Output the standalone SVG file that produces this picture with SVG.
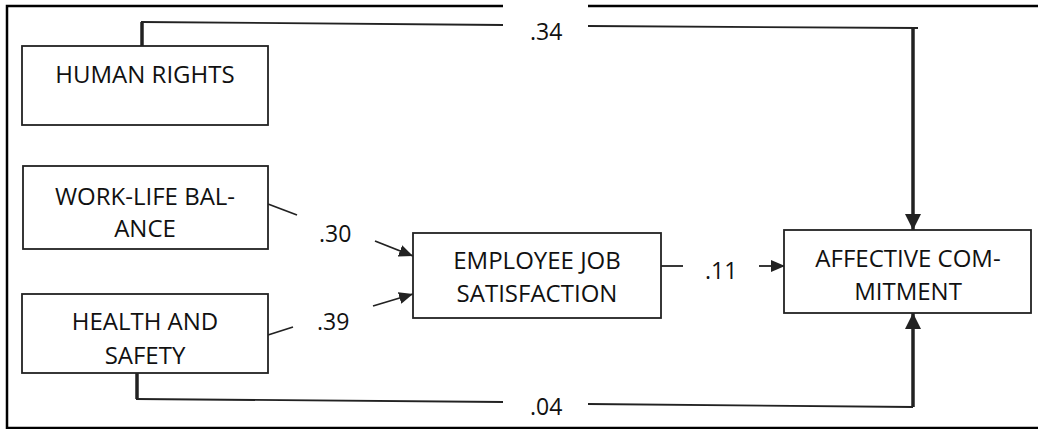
<svg xmlns="http://www.w3.org/2000/svg" width="1038" height="429" viewBox="0 0 1038 429">
<defs>
<style>
.box{fill:#fff;stroke:#222;stroke-width:1.8}
.txt{font-family:"Open Sans","Noto Sans",sans-serif;font-size:24px;fill:#111;text-anchor:middle}
.lbl{font-family:"Open Sans","Noto Sans",sans-serif;font-size:23px;fill:#111}
.thin{fill:none;stroke:#222;stroke-width:1.8}
.thick{fill:none;stroke:#222;stroke-width:3.5}
</style>
<marker id="ah" markerUnits="userSpaceOnUse" viewBox="0 0 14 12" markerWidth="14" markerHeight="12" refX="14" refY="6" orient="auto">
<path d="M0,0 L14,6 L0,12 Z" fill="#222"/>
</marker>
<marker id="ahb" markerUnits="userSpaceOnUse" viewBox="0 0 16 16" markerWidth="16" markerHeight="16" refX="16" refY="8" orient="auto">
<path d="M0,0 L16,8 L0,16 Z" fill="#222"/>
</marker>
</defs>
<rect width="1038" height="429" fill="#fff"/>
<path d="M1040,6 H7 V428 H1040" fill="none" stroke="#000" stroke-width="2.5"/>
<rect x="503" y="0" width="85" height="46" fill="#fff"/>

<g id="connectors">
<path class="thick" d="M142,46 V22"/>
<path class="thin" d="M141,22 L503,25"/>
<path class="thin" d="M588,26 L918,28"/>
<path class="thick" d="M913,28 V230" marker-end="url(#ahb)"/>
<path class="thick" d="M137,373 V399"/>
<path class="thin" d="M136,399 L503,402"/>
<path class="thin" d="M588,404 L913,407"/>
<path class="thick" d="M913,407 V313" marker-end="url(#ahb)"/>
<path class="thin" d="M268,204 L297,215"/>
<path class="thin" d="M375,241 L413,256" marker-end="url(#ah)"/>
<path class="thin" d="M268,335 L293,327"/>
<path class="thin" d="M373,306 L413,294" marker-end="url(#ah)"/>
<path class="thin" d="M661,266 H683"/>
<path class="thin" d="M759,266 H785" marker-end="url(#ah)"/>
<text class="lbl" x="530" y="40">.34</text>
<text class="lbl" x="530" y="415">.04</text>
<text class="lbl" x="319" y="242">.30</text>
<text class="lbl" x="317" y="330">.39</text>
<text class="lbl" x="705" y="279">.11</text>
</g>

<g id="human-rights">
<rect class="box" x="22" y="46" width="246" height="79"/>
<text class="txt" x="145" y="83">HUMAN RIGHTS</text>
</g>
<g id="work-life-balance">
<rect class="box" x="23" y="166" width="245" height="83"/>
<text class="txt" x="145" y="205">WORK-LIFE BAL-</text>
<text class="txt" x="145" y="237">ANCE</text>
</g>
<g id="health-and-safety">
<rect class="box" x="22" y="294" width="246" height="79"/>
<text class="txt" x="145" y="330">HEALTH AND</text>
<text class="txt" x="145" y="364">SAFETY</text>
</g>
<g id="employee-job-satisfaction">
<rect class="box" x="413" y="233" width="248" height="85"/>
<text class="txt" x="537" y="269">EMPLOYEE JOB</text>
<text class="txt" x="537" y="302">SATISFACTION</text>
</g>
<g id="affective-commitment">
<rect class="box" x="784" y="230" width="247" height="83"/>
<text class="txt" x="908" y="267">AFFECTIVE COM-</text>
<text class="txt" x="908" y="300">MITMENT</text>
</g>
</svg>
